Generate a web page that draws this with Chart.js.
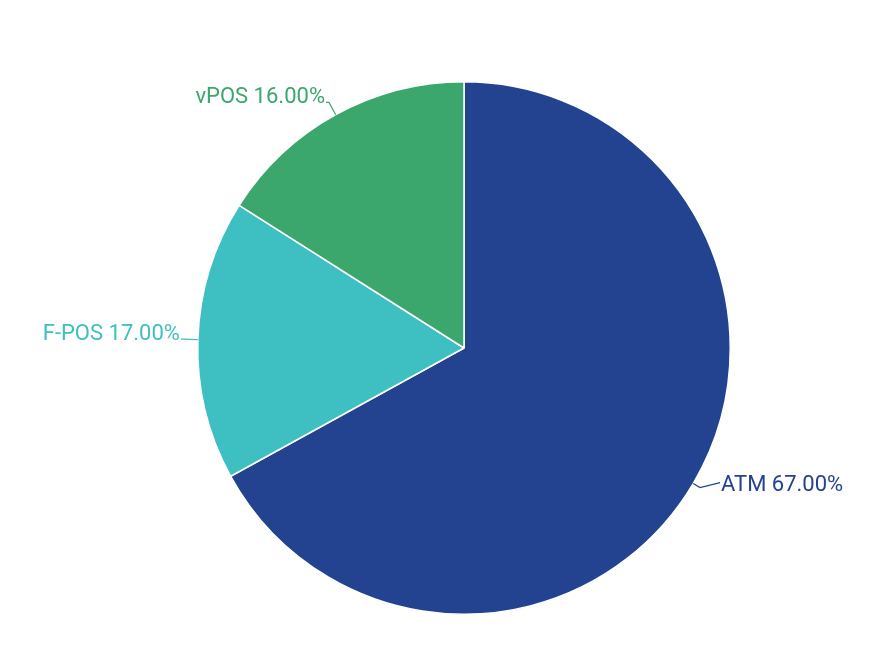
<!DOCTYPE html>
<html>
<head>
<meta charset="utf-8">
<script src="https://cdn.jsdelivr.net/npm/chart.js@4/dist/chart.umd.min.js"></script>
<style>
html,body{margin:0;padding:0;background:#fff;}
#wrap{width:896px;height:661px;position:relative;}
</style>
</head>
<body>
<div id="wrap"><canvas id="c" width="896" height="661"></canvas></div>
<script>
const categories = ['ATM', 'F-POS', 'vPOS'];
const values = [67, 17, 16];
const colors = ['#234391', '#3ebfc1', '#3ba76d'];

const labelPlugin = {
  id: 'pieLabels',
  afterDatasetsDraw(chart) {
    const ctx = chart.ctx;
    const meta = chart.getDatasetMeta(0);
    const total = values.reduce((a, b) => a + b, 0);
    ctx.save();
    ctx.font = '22px Roboto';
    meta.data.forEach((arc, i) => {
      const p = arc.getProps(['x', 'y', 'startAngle', 'endAngle', 'outerRadius'], true);
      const mid = (p.startAngle + p.endAngle) / 2;
      const cos = Math.cos(mid), sin = Math.sin(mid);
      const ex = p.x + cos * p.outerRadius, ey = p.y + sin * p.outerRadius;
      const side = cos >= 0 ? 1 : -1;
      const len1 = side > 0 ? 8 : 14, len2 = side > 0 ? 20 : 3;
      const x1 = ex + cos * len1, y1 = ey + sin * len1;
      const x2 = x1 + side * len2, y2 = y1 - (side > 0 ? 5 : 0);
      ctx.strokeStyle = colors[i];
      ctx.lineWidth = 1.2;
      ctx.beginPath();
      ctx.moveTo(ex, ey);
      ctx.lineTo(x1, y1);
      ctx.lineTo(x2, y2);
      ctx.stroke();
      const text = categories[i] + ' ' + (values[i] / total * 100).toFixed(2) + '%';
      ctx.fillStyle = colors[i];
      ctx.textBaseline = 'middle';
      ctx.textAlign = side > 0 ? 'left' : 'right';
      ctx.fillText(text, x2 + side * 1, side > 0 ? y2 + 3 : y1 - 5);
    });
    ctx.restore();
  }
};

new Chart(document.getElementById('c'), {
  type: 'pie',
  data: {
    labels: categories,
    datasets: [{
      data: values,
      backgroundColor: colors,
      borderColor: '#ffffff',
      borderWidth: 1.5,
      hoverOffset: 0
    }]
  },
  options: {
    responsive: false,
    animation: false,
    layout: { padding: { left: 197, right: 165, top: 81, bottom: 46 } },
    plugins: {
      legend: { display: false },
      tooltip: { enabled: false }
    }
  },
  plugins: [labelPlugin]
});
</script>
</body>
</html>
